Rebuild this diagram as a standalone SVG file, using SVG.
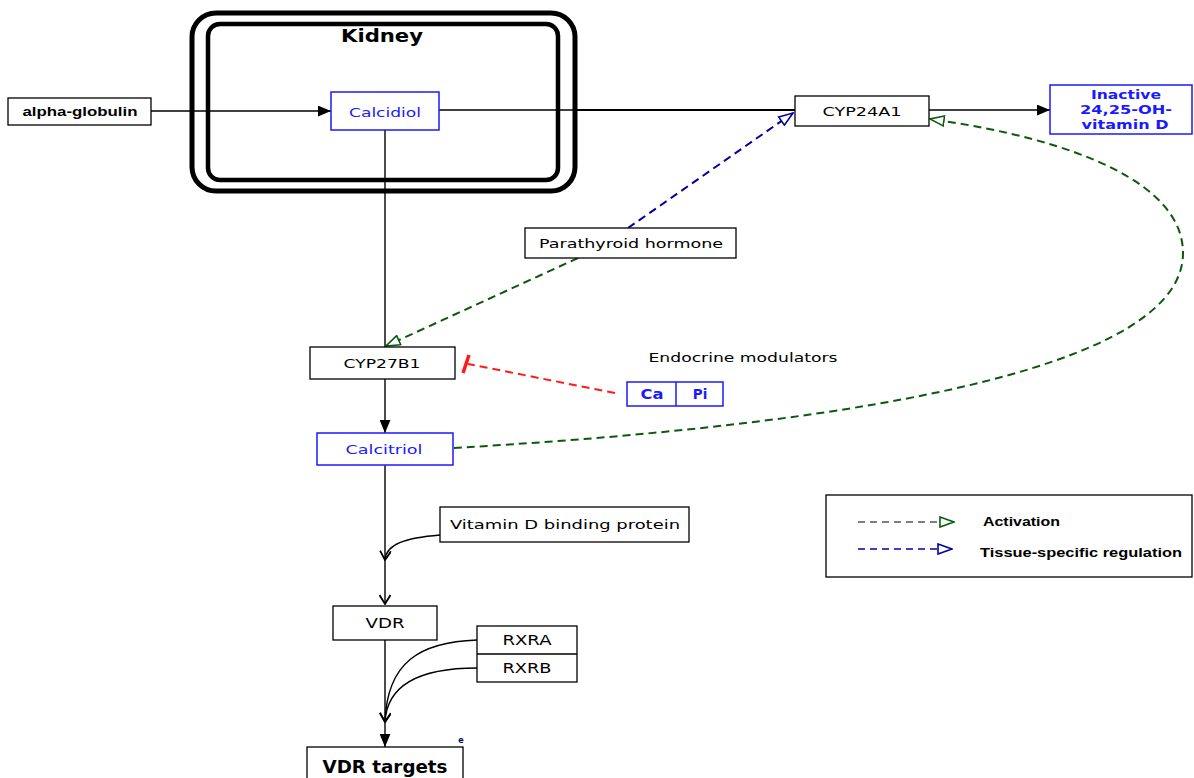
<svg xmlns="http://www.w3.org/2000/svg" width="1194" height="778" viewBox="0 0 1194 778">
<style>
.box{fill:#fff;stroke:#000;stroke-width:1.3}
.bbox{fill:#fff;stroke:#1a1aff;stroke-width:1.5}
.t{font-family:"DejaVu Sans",Verdana,sans-serif;font-size:13px;fill:#000;text-anchor:middle;dominant-baseline:central}
.tb{font-family:"DejaVu Sans",Verdana,sans-serif;font-size:13px;fill:#1a1aff;text-anchor:middle;dominant-baseline:central}
.ta{font-family:"Liberation Sans",Arial,sans-serif;font-weight:bold;font-size:12px;fill:#000;dominant-baseline:central}
.ln{fill:none;stroke:#000;stroke-width:1.4}
.act{fill:none;stroke:#0b5a0b;stroke-width:2;stroke-dasharray:8 5}
.tis{fill:none;stroke:#0000a0;stroke-width:2;stroke-dasharray:8 5}
.inh{fill:none;stroke:#ff1a1a;stroke-width:2;stroke-dasharray:8 5}
</style>
<defs>
<marker id="fa" viewBox="0 0 12 10" refX="12" refY="5" markerWidth="13" markerHeight="11" markerUnits="userSpaceOnUse" orient="auto"><path d="M0,0 L12,5 L0,10 z" fill="#000"/></marker>
<marker id="ch" viewBox="0 0 12 12" refX="11" refY="6" markerWidth="12" markerHeight="12" markerUnits="userSpaceOnUse" orient="auto"><path d="M2,0.5 L11,6 L2,11.5" fill="none" stroke="#000" stroke-width="1.8"/></marker>
<marker id="og" viewBox="0 0 16 12" refX="15" refY="6" markerWidth="16" markerHeight="12" markerUnits="userSpaceOnUse" orient="auto"><path d="M1,1 L15,6 L1,11 z" fill="#fff" stroke="#0b5a0b" stroke-width="1.6"/></marker>
<marker id="ob" viewBox="0 0 16 12" refX="15" refY="6" markerWidth="16" markerHeight="12" markerUnits="userSpaceOnUse" orient="auto"><path d="M1,1 L15,6 L1,11 z" fill="#fff" stroke="#0000a0" stroke-width="1.6"/></marker>
</defs>

<g id="kidney">
<rect x="192" y="13" width="383" height="178" rx="24" fill="none" stroke="#000" stroke-width="5"/>
<rect x="208" y="24" width="350" height="156" rx="12" fill="none" stroke="#000" stroke-width="4.5"/>
<text x="382" y="35" font-family="DejaVu Sans,Verdana,sans-serif" font-weight="bold" font-size="18" text-anchor="middle" dominant-baseline="central" textLength="82" lengthAdjust="spacingAndGlyphs">Kidney</text>
</g>

<g id="connectors">
<line class="ln" x1="151" y1="111" x2="331" y2="111" marker-end="url(#fa)"/>
<line class="ln" x1="439" y1="110" x2="575" y2="110"/>
<line x1="575" y1="110" x2="795" y2="110" stroke="#000" stroke-width="2.2"/>
<line class="ln" x1="929" y1="110" x2="1050" y2="110" marker-end="url(#fa)"/>
<line class="ln" x1="385" y1="130" x2="385" y2="347"/>
<line class="ln" x1="385" y1="379" x2="385" y2="433" marker-end="url(#fa)"/>
<line class="ln" x1="385" y1="465" x2="385" y2="604" marker-end="url(#ch)"/>
<path class="ln" d="M440,535 C405,538 386,544 385,560" marker-end="url(#ch)"/>
<line class="ln" x1="385" y1="640" x2="385" y2="747" marker-end="url(#fa)"/>
<path class="ln" d="M477,640 C420,642 387,662 385,722" marker-end="url(#ch)"/>
<path class="ln" d="M477,668 C420,668 387,685 385,722" marker-end="url(#ch)"/>
<line class="tis" x1="628" y1="228" x2="793" y2="113" marker-end="url(#ob)"/>
<line class="act" x1="578" y1="258" x2="386" y2="346" marker-end="url(#og)"/>
<path class="act" d="M454,448 C760,430 1183,385 1183,253 C1183,185 1080,140 930,119" marker-end="url(#og)"/>
<line class="inh" x1="615" y1="393" x2="468" y2="364"/>
<line x1="463" y1="373" x2="469" y2="355" stroke="#ff1a1a" stroke-width="3.5"/>
</g>

<g id="alpha-globulin">
<rect class="box" x="8" y="98" width="143" height="27"/>
<text class="ta" x="80" y="112" text-anchor="middle" textLength="115" lengthAdjust="spacingAndGlyphs">alpha-globulin</text>
</g>
<g id="calcidiol">
<rect class="bbox" x="331" y="92" width="108" height="38"/>
<text class="tb" x="385" y="112" textLength="72" lengthAdjust="spacingAndGlyphs">Calcidiol</text>
</g>
<g id="cyp24a1">
<rect class="box" x="795" y="96" width="134" height="30"/>
<text class="t" x="862" y="111" textLength="79" lengthAdjust="spacingAndGlyphs">CYP24A1</text>
</g>
<g id="inactive">
<rect class="bbox" x="1050" y="85" width="142" height="49"/>
<text class="tb" x="1126" y="94" style="font-size:12.5px;font-weight:bold" textLength="70" lengthAdjust="spacingAndGlyphs">Inactive</text>
<text class="tb" x="1126" y="109" style="font-size:12.5px;font-weight:bold" textLength="92" lengthAdjust="spacingAndGlyphs">24,25-OH-</text>
<text class="tb" x="1125" y="124" style="font-size:12.5px;font-weight:bold" textLength="87" lengthAdjust="spacingAndGlyphs">vitamin D</text>
</g>
<g id="parathyroid">
<rect class="box" x="525" y="228" width="211" height="30"/>
<text class="t" x="631" y="243" textLength="184" lengthAdjust="spacingAndGlyphs">Parathyroid hormone</text>
</g>
<g id="cyp27b1">
<rect class="box" x="310" y="347" width="145" height="32"/>
<text class="t" x="382" y="363" textLength="77" lengthAdjust="spacingAndGlyphs">CYP27B1</text>
</g>
<g id="endocrine">
<text class="t" x="743" y="357" textLength="189" lengthAdjust="spacingAndGlyphs">Endocrine modulators</text>
<rect class="bbox" x="627" y="382" width="96" height="24"/>
<line x1="676" y1="382" x2="676" y2="406" stroke="#1a1aff" stroke-width="1.5"/>
<text class="tb" x="652" y="394" style="font-size:13.5px;font-weight:bold" textLength="23" lengthAdjust="spacingAndGlyphs">Ca</text>
<text class="tb" x="700" y="394" style="font-size:13.5px;font-weight:bold">Pi</text>
</g>
<g id="calcitriol">
<rect class="bbox" x="317" y="433" width="136" height="32"/>
<text class="tb" x="384" y="449" textLength="77" lengthAdjust="spacingAndGlyphs">Calcitriol</text>
</g>
<g id="vdbp">
<rect class="box" x="440" y="507" width="249" height="35"/>
<text class="t" x="565" y="524" textLength="230" lengthAdjust="spacingAndGlyphs">Vitamin D binding protein</text>
</g>
<g id="vdr">
<rect class="box" x="333" y="606" width="104" height="34"/>
<text class="t" x="385" y="623" style="font-size:14px" textLength="39" lengthAdjust="spacingAndGlyphs">VDR</text>
</g>
<g id="rxr">
<rect class="box" x="477" y="626" width="100" height="56"/>
<line x1="477" y1="654" x2="577" y2="654" stroke="#000" stroke-width="1.3"/>
<text class="t" x="527" y="640" style="font-size:14px" textLength="49" lengthAdjust="spacingAndGlyphs">RXRA</text>
<text class="t" x="527" y="668" style="font-size:14px" textLength="49" lengthAdjust="spacingAndGlyphs">RXRB</text>
</g>
<g id="vdr-targets">
<rect class="box" x="307" y="747" width="156" height="40"/>
<text x="385" y="767" font-family="DejaVu Sans,Verdana,sans-serif" font-weight="bold" font-size="17" text-anchor="middle" dominant-baseline="central" textLength="125" lengthAdjust="spacingAndGlyphs">VDR targets</text>
<text x="461" y="740" font-family="DejaVu Sans,Verdana,sans-serif" font-weight="bold" font-size="8" fill="#000050" text-anchor="middle" dominant-baseline="central">e</text>
</g>
<g id="legend">
<rect x="826" y="495" width="366" height="82" fill="#fff" stroke="#000" stroke-width="1.3"/>
<line x1="858" y1="522" x2="954" y2="522" stroke="#555" stroke-width="1.3" stroke-dasharray="7 5" marker-end="url(#og)"/>
<text class="ta" x="983" y="522" textLength="77" lengthAdjust="spacingAndGlyphs">Activation</text>
<line x1="858" y1="549" x2="952" y2="549" stroke="#0000a0" stroke-width="1.3" stroke-dasharray="7 5" marker-end="url(#ob)"/>
<text class="ta" x="980" y="553" textLength="202" lengthAdjust="spacingAndGlyphs">Tissue-specific regulation</text>
</g>
</svg>
